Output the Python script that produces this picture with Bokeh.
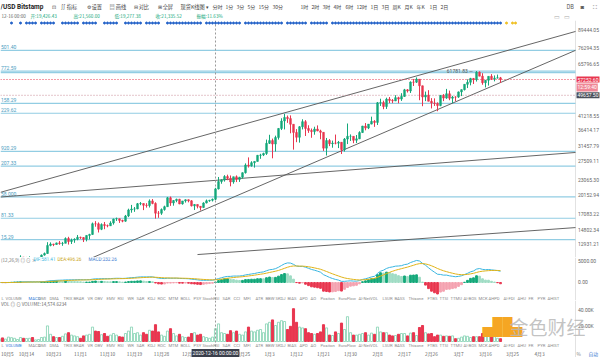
from bokeh.plotting import figure
from bokeh.layouts import column
from bokeh.models import Range1d, Label
from bokeh.core.properties import value
from bokeh.embed import file_html
from bokeh.resources import INLINE

CJK = "Noto Sans CJK SC"
LAT = "Roboto"

# ---------------- data: BTC/USD Bitstamp daily, 2020-10-05 .. 2021-03-21 ----------------
first_open = 10670.0
closes = [10790, 10600, 10670, 10930, 11060, 11300, 11380, 11540, 11430, 11430, 11500, 11320, 11370, 11510, 11750, 11920,
          12820, 12980, 12930, 13120, 13040, 13070, 13650, 13280, 13460, 13560, 13800,
          13760, 13550, 14030, 14160, 15590, 15580, 14830, 15480, 15330, 15300, 15700, 16280, 16320, 16070, 15960,
          16720, 17660, 17800, 17820, 18680, 18710, 18420, 18370, 19160, 18730, 17150, 17140, 17720, 18180, 19700,
          18800, 19220, 19440, 18650, 19150, 19360, 19170, 18320, 18550, 18250, 18040, 18800, 19170, 19270, 19440,
          21350, 22800, 23140, 23860, 23480, 22740, 23820, 23240, 23730, 24700, 26480, 26280, 27040, 27360, 28890, 28970,
          29380, 32190, 33000, 31990, 33950, 36820, 39370, 40670, 40240, 38240, 35540, 34000, 37390, 39150, 36820,
          36180, 35790, 36630, 36020, 35550, 30830, 33010, 32100, 32290, 32250, 32510, 30430, 33450, 34300, 34300, 33100,
          33520, 35480, 37620, 36950, 38290, 39260, 38880, 46400, 46480, 44850, 47970, 47410, 47200, 48620,
          47990, 49160, 52150, 51620, 55920, 55900, 57410, 54090, 48890, 49700, 47060, 46330, 46160, 45240,
          49600, 48430, 50360, 48360, 48870, 48860, 51200, 52250, 54820, 55840, 57800, 57200, 61180, 59000,
          55600, 56900, 58900, 57650, 58000, 58100, 57350]
highs = [10800, 10800, 10690, 10950, 11110, 11490, 11440, 11730, 11560, 11560, 11620, 11540, 11400, 11500, 11820, 12030,
         13200, 13180, 13020, 13160, 13340, 13240, 13790, 13860, 13640, 13680, 14090,
         13880, 13830, 14060, 14240, 15760, 15960, 15780, 15650, 15840, 15480, 15950, 16330, 16480, 16330, 16170,
         16880, 17860, 18480, 18130, 18800, 18960, 18740, 18770, 19420, 19480, 18920, 17480, 17900, 18350, 19850,
         19920, 19310, 19550, 19520, 19160, 19420, 19410, 19290, 18630, 18570, 18280, 18930, 19400, 19340, 19570,
         21560, 23770, 23290, 24170, 24270, 24100, 23840, 24110, 23790, 24780, 26870, 28360, 27400, 27410, 29000, 29300,
         29600, 33300, 34780, 33600, 34500, 36940, 40360, 41950, 41360, 41420, 38240, 36600, 37600, 40000, 39700,
         37900, 36800, 37400, 37850, 36400, 35580, 33800, 33450, 33000, 34850, 32900, 32560, 33780, 38500, 34900, 34300,
         34700, 35900, 37700, 38650, 38300, 40950, 39700, 46750, 48150, 47300, 48600, 48900, 48000, 49700,
         49000, 50600, 52600, 52500, 56300, 57500, 58350, 57500, 54200, 51350, 52000, 48400, 48300, 46600,
         49800, 50200, 52600, 51800, 49400, 49200, 51400, 52400, 54900, 57350, 58100, 58050, 61781.83, 61600,
         60600, 56900, 58950, 60100, 59400, 59850, 58600]
lows = [10530, 10530, 10560, 10530, 10830, 11050, 11280, 11180, 11260, 11300, 11250, 11220, 11300, 11350, 11400, 11690,
        11890, 12720, 12740, 12890, 12900, 12780, 13060, 12920, 12990, 13130, 13430,
        13600, 13220, 13300, 13540, 14100, 15180, 14410, 14720, 14840, 15100, 15280, 15470, 15990, 15710, 15800,
        15870, 16560, 17220, 17360, 17770, 18430, 17630, 18030, 18050, 18590, 16330, 16450, 16890, 17540, 18180,
        18320, 18350, 18930, 18590, 18520, 18870, 18910, 18220, 17650, 17910, 17570, 18000, 18730, 19000, 19060,
        19290, 21230, 22360, 22800, 23090, 21850, 22370, 22700, 22740, 23430, 24510, 25880, 26080, 25860, 27320, 28000,
        28700, 29000, 32000, 28130, 29900, 33300, 36300, 36500, 38720, 35250, 30420, 32530, 32400, 36500, 34400,
        35380, 33850, 34800, 35900, 33400, 30070, 28850, 31400, 30950, 31900, 30840, 29240, 29900, 31980, 32900, 32230,
        32300, 33450, 35360, 36200, 36600, 38200, 37350, 37990, 45100, 43800, 43900, 46300, 46250, 47100,
        46200, 47200, 48950, 50900, 50700, 54000, 55500, 47500, 45000, 47100, 47000, 44100, 45100, 43000,
        45000, 47100, 48100, 47500, 46300, 47100, 48500, 49300, 51850, 53000, 54300, 55000, 56200, 58950,
        54600, 53300, 54200, 57000, 56300, 57800, 55500]
volumes = [3500, 4500, 3000, 5500, 4800, 4000, 2500, 5000, 4000, 3800, 4000, 5000, 2000, 2500, 5000, 5500,
           19500, 9000, 6000, 5000, 5000, 6500, 9500, 11000, 8000, 7000, 6000,
           4000, 7000, 8000, 9000, 18000, 13000, 12500, 8500, 10000, 6500, 8000, 10000, 8000, 6000, 5500,
           10000, 13000, 18000, 10000, 11000, 8000, 11000, 9000, 14000, 13000, 21000, 12000, 8000, 6500, 13000,
           16000, 10000, 7000, 9000, 6000, 5000, 5500, 10000, 11000, 8000, 9000, 6000, 5000, 4000, 5500,
           16000, 22000, 11000, 10000, 9000, 13500, 11000, 13000, 9000, 8000, 12000, 18000, 13000, 12000, 14000, 15000,
           11000, 22000, 24000, 27000, 20000, 24000, 26000, 25000, 15000, 19000, 41000, 24000, 18000, 17000, 16000,
           11000, 10000, 9000, 10000, 12000, 21000, 17000, 8000, 7500, 12000, 10000, 23000, 15000, 31000, 11000, 8000,
           8000, 9000, 10000, 11000, 8000, 10500, 9000, 18000, 12000, 11000, 11000, 8000, 7000, 7500,
           9000, 10000, 10000, 7000, 10500, 11000, 7500, 17500, 20000, 11000, 9500, 10000, 6000, 8000,
           8000, 6500, 7000, 6500, 7000, 3500, 4000, 5500, 7000, 6500, 5000, 6000, 6000, 6000,
           10000, 8000, 7000, 7000, 6000, 4000, 3500]

# x tick labels every 9 days starting at index 0 (10月5); 12月16 is covered by the crosshair date box
date_tick_idx = [0, 9, 18, 27, 36, 45, 54, 63, 81, 90, 99, 108, 117, 126, 135, 144, 153, 162, 171, 180]
date_tick_labels = ["10月5", "10月14", "10月23", "11月1", "11月10", "11月19", "11月28", "12月7",
                    "12月25", "1月3", "1月12", "1月21", "1月30", "2月8", "2月17", "2月26", "3月7",
                    "3月16", "3月25", "4月3"]
price_ticks = [89444.05, 76294.35, 65796.65, 41218.55, 36414.17, 31457.79, 27509.11, 23065.30,
               20152.94, 17083.22, 14802.34, 12931.21]
macd_ticks = [5000, 0]
macd_tick_labels = ["5000.00", "0.00"]
vol_ticks = [40000, 20000]
vol_tick_labels = ["40.00K", "20.00K"]

# horizontal levels drawn by the user (price, left label fragment)
level_prices = [74501.40, 61772.59, 60900.0, 46158.29, 42229.62, 29920.29, 26207.33, 19858.00, 16381.33, 13515.29]
level_labels = ["501.40", "772.59", "", "158.29", "229.62", "920.29", "207.33", "58.000", "81.33", "15.29"]
# trend lines (day index, price)
trend_x0 = [0.33, 30.3, 0.33, 66.0]
trend_p0 = [20700, 11390, 19840, 11810]
trend_x1 = [192.0, 192.0, 192.0, 192.0]
trend_p1 = [88300, 74470, 29650, 15060]
# top signal dots (day index)
blue_dots = [4, 7] + list(range(9, 13)) + list(range(14, 19)) + list(range(21, 27)) + list(range(28, 33)) + \
            list(range(35, 40)) + list(range(42, 48)) + list(range(49, 54)) + list(range(56, 68)) + \
            list(range(69, 81)) + list(range(82, 95)) + list(range(96, 103)) + list(range(104, 110)) + \
            list(range(111, 168))
yellow_dots = [169, 171, 172]

last_price = 57252.60
cross_idx = 72
cross_price = 49657.50

GREEN = "#14a87a"
RED = "#e8364f"
LGREEN = "#9fdcc4"
LRED = "#f4a3b0"
LEVEL = "#92cde3"
TREND = "#555555"
AXIS_TXT = "#666666"

n = len(closes)
opens = [first_open] + closes[:-1]
idx = list(range(n))
up = [c >= o for o, c in zip(opens, closes)]


def ema(vals, span):
    a = 2.0 / (span + 1)
    out, e = [], vals[0]
    for v in vals:
        e = a * v + (1 - a) * e
        out.append(e)
    return out


dif = [a - b for a, b in zip(ema(closes, 12), ema(closes, 26))]
dea = ema(dif, 9)
hist = [2 * (d - e) for d, e in zip(dif, dea)]


def ix(px):
    """screen x (px from left) -> day index (3 px per day, index 0 at px -1)"""
    return (px + 1) / 3.0


XR = Range1d(ix(0), ix(600))
X_AXIS = ix(575)      # the price scale's edge
X_LBL = ix(577.5)


def base_fig(h, yr, ylog=False):
    kw = dict(frame_width=600, frame_height=h, x_range=XR, y_range=yr, toolbar_location=None,
              output_backend="svg", min_border=0)
    if ylog:
        kw["y_axis_type"] = "log"
    f = figure(**kw)
    f.axis.visible = False
    f.grid.visible = False
    f.outline_line_color = None
    f.background_fill_color = "white"
    f.border_fill_color = "white"
    f.vspan(x=[X_AXIS], line_color="#e2e2e2", line_width=1)
    return f


def scale_labels(f, ys, texts):
    f.text(x=[X_LBL] * len(ys), y=ys, text=texts, text_font=value(LAT), text_font_size="5px",
           text_color=AXIS_TXT, text_baseline="middle")


# ---------------- header ----------------
hdr = figure(width=600, height=20, x_range=Range1d(0, 600), y_range=Range1d(20, 0), toolbar_location=None,
             output_backend="svg", min_border=0)
hdr.axis.visible = False
hdr.grid.visible = False
hdr.outline_line_color = None
hdr.text(x=[0], y=[6], text=["/USD Bitstamp"], text_font=value(LAT), text_font_size="6.5px",
         text_font_style="bold", text_color="#222222", text_baseline="middle")
tools_x = [51, 60, 86, 109, 133, 157, 180]
tools_t = ["⊡", "∬ 指标", "⚙ 设置", "▤ 画线", "⊟ 对比", "⊞ 全屏", "现货K线图 ▾"]
hdr.text(x=tools_x, y=[6] * len(tools_x), text=tools_t, text_font=value(CJK), text_font_size="5.2px",
         text_color="#444444", text_baseline="middle")
tf = ["分时", "1分", "3分", "5分", "15分", "30分", "1时", "2时", "3时", "4时", "6时", "12时", "1日", "3日",
      "周K", "月K", "年K", "1日", "2日"]
tf_x = [212, 225, 236, 247, 258, 272, 300, 311, 322, 333, 345, 356, 370, 381, 392, 404, 416, 429, 440]
hdr.text(x=tf_x, y=[6] * len(tf), text=tf, text_font=value(CJK), text_font_size="5px",
         text_color="#444444", text_baseline="middle")
hdr.text(x=[566, 580, 592], y=[6, 6, 6], text=["DB", "◙", "⛶"], text_font=value(CJK), text_font_size="5.5px",
         text_color="#555555", text_baseline="middle")
hdr.text(x=[553, 563], y=[16, 16], text=["▭", "▭"], text_font=value(CJK), text_font_size="6px",
         text_color="#aaaaaa", text_baseline="middle")
info_x = [1, 30, 73, 114, 155, 196]
info_t = ["12-16 00:00", "开:19,426.43", "高:21,560.00", "低:19,277.38", "收:21,335.52", "振幅:11.63%"]
hdr.text(x=info_x, y=[15] * len(info_x), text=info_t, text_font=value(CJK), text_font_size="4.6px",
         text_color=["#666666", GREEN, GREEN, GREEN, GREEN, GREEN], text_baseline="middle")

# ---------------- main price chart (frame y 20..257) ----------------
main = base_fig(237, Range1d(11500, 97470), ylog=True)
scale_labels(main, price_ticks, ["%.2f" % t for t in price_ticks])

x_left = ix(0)
main.segment(x0=[x_left] * len(level_prices), y0=level_prices, x1=[X_AXIS] * len(level_prices), y1=level_prices,
             line_color=LEVEL, line_width=1.2)
lvl_show = [(p, t) for p, t in zip(level_prices, level_labels) if t]
main.text(x=[ix(0.5)] * len(lvl_show), y=[p for p, _ in lvl_show], text=[t for _, t in lvl_show],
          text_font=value(LAT), text_font_size="5px", text_color="#4a9cc0", text_baseline="bottom", y_offset=-1)
main.segment(x0=trend_x0, y0=trend_p0, x1=trend_x1, y1=trend_p1, line_color=TREND, line_width=0.9)
main.segment(x0=[x_left], y0=[last_price], x1=[X_AXIS], y1=[last_price], line_color=RED, line_width=1,
             line_dash="1 2")
main.segment(x0=[x_left], y0=[cross_price], x1=[X_AXIS], y1=[cross_price], line_color="#c98a98", line_width=1,
             line_dash="1 2")
main.vspan(x=[cross_idx], line_color="#9a9a9a", line_width=1, line_dash="2 2")

colors = [GREEN if u else RED for u in up]
main.segment(x0=idx, y0=lows, x1=idx, y1=highs, line_color=colors, line_width=1)
main.vbar(x=idx, bottom=[min(o, c) for o, c in zip(opens, closes)], top=[max(o, c) for o, c in zip(opens, closes)],
          width=0.62, fill_color=colors, line_color=colors, line_width=0.5)

dot_y = 95260
main.scatter(x=blue_dots, y=[dot_y] * len(blue_dots), size=2.0, color="#1f5fc8")
main.scatter(x=yellow_dots, y=[dot_y] * len(yellow_dots), size=2.0, color="#f0c020")

peak_i = max(range(n), key=lambda i: highs[i])
main.text(x=[peak_i - 1.2], y=[highs[peak_i]], text=["%.2f —" % highs[peak_i]], text_font=value(LAT),
          text_font_size="5px", text_color="#555555", text_align="right", text_baseline="middle")

for txt, yv, bg in [("%.2f" % last_price, last_price, RED), ("12:59:40", 53300, "#ef8796"),
                    ("%.2f" % cross_price, cross_price, "#4a4f5a")]:
    main.add_layout(Label(x=ix(576), y=yv, text=txt, text_font=LAT, text_font_size="5px", text_color="white",
                          background_fill_color=bg, text_baseline="middle", padding=1))

# ---------------- MACD (frame y 257..300) ----------------
macd = base_fig(43, Range1d(-4286, 5952))
scale_labels(macd, macd_ticks, macd_tick_labels)
hcol = []
for i, h in enumerate(hist):
    prev = hist[i - 1] if i else h
    if h >= 0:
        hcol.append(GREEN if h >= prev else LGREEN)
    else:
        hcol.append(RED if h <= prev else LRED)
macd.vbar(x=idx, bottom=0, top=hist, width=0.6, fill_color=hcol, line_color=hcol)
macd.line(idx, dif, line_color="#3ab6e0", line_width=1)
macd.line(idx, dea, line_color="#e0b419", line_width=1)
macd.vspan(x=[cross_idx], line_color="#9a9a9a", line_width=1, line_dash="2 2")
macd.text(x=[ix(0.5)], y=[5400], text=["(12,26,9)  ◎ ⊙ ×"], text_font=value(CJK), text_font_size="4.6px",
          text_color="#777777", text_baseline="middle")
macd.text(x=[ix(33), ix(57), ix(88)], y=[5400] * 3, text=["DIF:581.41", "DEA:496.26", "MACD:232.26"],
          text_font=value(LAT), text_font_size="4.6px", text_color=["#3ab6e0", "#c9a010", "#3a7ad0"],
          text_baseline="middle")
tabs_l = ["L", "VOLUME", "MACD", "DMI", "DMA", "TRIX", "BRAR", "VR", "OBV", "EMV", "RSI", "WR", "SAR", "KDJ", "ROC",
          "MTM", "BOLL", "PSY", "StochRSI", "SAR", "CCI", "MFI", "ATR", "BBW", "SKDJ", "BIAS", "APO", "AO",
          "Positon", "EuroFlow", "AI-NetVOL", "LSUR", "BASS", "Thisone", "FTBS", "TTSI", "TTMU", "AI-BOS", "MCK",
          "AHPD", "AI-FDI", "AHU", "FR", "PYR", "AHIST"]
tabs_px = [1, 5, 28, 38, 49, 63, 73, 87, 94, 106, 117, 127, 136, 147, 157, 168, 180, 193, 202, 222, 233, 243, 255,
           265, 275, 287, 299, 310, 320, 338, 358, 382, 394, 408, 427, 439, 450, 463, 478, 488, 503, 517, 528, 537,
           547]
tabs_x = [ix(p) for p in tabs_px]
macd.text(x=tabs_x, y=[-3810] * len(tabs_x), text=tabs_l, text_font=value(LAT), text_font_size="4.2px",
          text_color=["#8a8a8a", "#8a8a8a", "#2a7ad8"] + ["#8a8a8a"] * (len(tabs_l) - 3), text_baseline="middle")

# ---------------- Volume (frame y 300..357, zero at y 341) ----------------
vol = base_fig(57, Range1d(-20000, 51250))
scale_labels(vol, vol_ticks, vol_tick_labels)
up_i = [i for i in idx if up[i]]
dn_i = [i for i in idx if not up[i]]
vol.vbar(x=up_i, bottom=0, top=[volumes[i] for i in up_i], width=0.7, fill_color="white", line_color="#7fd0b0",
         line_width=0.8)
vol.vbar(x=dn_i, bottom=0, top=[volumes[i] for i in dn_i], width=0.7, fill_color=RED, line_color=RED)
vol.vspan(x=[cross_idx], line_color="#9a9a9a", line_width=1, line_dash="2 2")
vol.text(x=[ix(0.5)], y=[47000], text=["VOL  ◎ ⊙   VOLUME:14,574.6234"], text_font=value(CJK),
         text_font_size="4.6px", text_color="#666666", text_baseline="middle")
vol.text(x=tabs_x, y=[-5000] * len(tabs_x), text=tabs_l, text_font=value(LAT), text_font_size="4.2px",
         text_color=["#8a8a8a", "#2a7ad8"] + ["#8a8a8a"] * (len(tabs_l) - 2), text_baseline="middle")
# first date label sits at the very left edge: left-align it so it stays inside the chart
vol.text(x=[ix(0.5)], y=[-14400], text=[date_tick_labels[0]], text_font=value(CJK),
         text_font_size="4.8px", text_color=AXIS_TXT, text_align="left", text_baseline="middle")
vol.text(x=date_tick_idx[1:], y=[-14400] * (len(date_tick_idx) - 1), text=date_tick_labels[1:],
         text_font=value(CJK), text_font_size="4.8px", text_color=AXIS_TXT, text_align="center",
         text_baseline="middle")
vol.add_layout(Label(x=cross_idx, y=-14400, text="2020-12-16 00:00:00", text_font=LAT, text_font_size="5px",
                     text_color="white", background_fill_color="#3a3f4b", text_align="center",
                     text_baseline="middle", padding=1))
vol.text(x=[ix(576), ix(588)], y=[-14400] * 2, text=["%", "自动"], text_font=value(CJK), text_font_size="4.8px",
         text_color=["#888888", "#3a7ad0"], text_baseline="middle")
vol.add_layout(Label(x=ix(482), y=1000, text="▟▙", text_font=CJK, text_font_size="20px", text_color="#f5a623"))
vol.add_layout(Label(x=ix(509), y=2500, text="金色财经", text_font=CJK, text_font_size="19px",
                     text_color="#b8b8b8", text_alpha=0.85))

layout = column(hdr, main, macd, vol, spacing=0)
open("out.html", "w").write(file_html(layout, INLINE))
